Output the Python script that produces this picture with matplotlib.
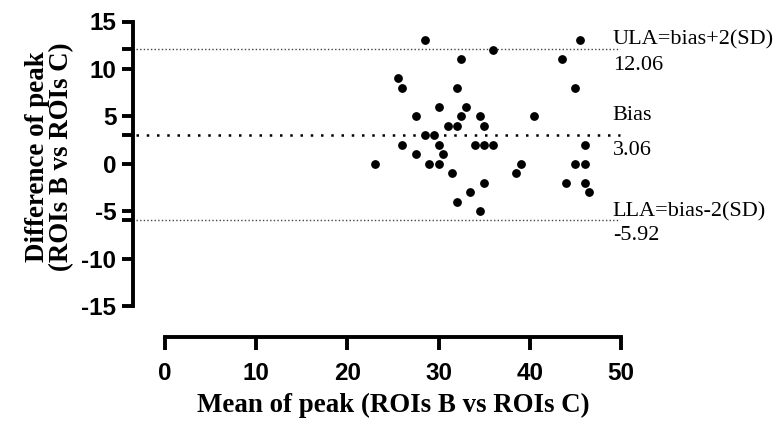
import matplotlib

matplotlib.use("Agg")
import matplotlib.pyplot as plt

# Bland-Altman data
mean_peak = [28.5, 36.0, 32.5, 25.5, 26.0, 32.0, 30.0, 33.0, 27.5, 32.5, 34.5,
             31.0, 32.0, 35.0, 28.5, 29.5, 26.0, 30.0, 34.0, 35.0, 36.0, 27.5,
             30.5, 23.0, 29.0, 30.0, 31.5, 35.0, 33.5, 32.0, 34.5,
             45.5, 43.5, 45.0, 40.5, 46.0, 39.0, 45.0, 46.0, 38.5, 44.0, 46.0, 46.5]
diff_peak = [13, 12, 11, 9, 8, 8, 6, 6, 5, 5, 5,
             4, 4, 4, 3, 3, 2, 2, 2, 2, 2, 1,
             1, 0, 0, 0, -1, -2, -3, -4, -5,
             13, 11, 8, 5, 2, 0, 0, 0, -1, -2, -2, -3]
bias = 3.06
ula = 12.06
lla = -5.92
x_ticks = [0, 10, 20, 30, 40, 50]
y_ticks = [-15, -10, -5, 0, 5, 10, 15]

plt.rcParams["axes.unicode_minus"] = False

fig = plt.figure(figsize=(7.77, 4.24), dpi=100)
ax = fig.add_axes([133 / 777, 118 / 424, 488 / 777, 284.5 / 424])

serif = ["Liberation Serif", "DejaVu Serif"]
sans = ["Liberation Sans", "DejaVu Sans"]

ax.scatter(mean_peak, diff_peak, s=28, color="black", zorder=3, clip_on=False)

x0, x1 = -3.2, 49.9
ax.plot([x0, x1], [ula, ula], color="#444444", linewidth=1.0, dashes=(1, 1.6))
ax.plot([x0, x1], [lla, lla], color="#444444", linewidth=1.0, dashes=(1, 1.6))
ax.plot([x0, x1], [bias, bias], color="black", linewidth=1.8, dashes=(1, 3.1))

tx = 49.1
labels = [("ULA=bias+2(SD)", ula, 3.5), ("Bias", bias, 10.5), ("LLA=bias-2(SD)", lla, 2.5)]
for name, val, up in labels:
    ax.annotate(name, xy=(tx, val), xytext=(0, up), textcoords="offset points",
                va="baseline", ha="left", fontsize=16, family=serif, annotation_clip=False)
    ax.annotate(f"{val:.2f}", xy=(tx, val), xytext=(0, -14.5), textcoords="offset points",
                va="baseline", ha="left", fontsize=16, family=serif, annotation_clip=False)

ax.set_xlim(-3.5, 50)
ax.set_ylim(-15, 15)

for side in ("top", "right"):
    ax.spines[side].set_visible(False)
ax.spines["left"].set_linewidth(2.8)
ax.spines["bottom"].set_linewidth(2.8)
ax.spines["bottom"].set_position(("outward", 22))
ax.spines["bottom"].set_bounds(0, 50)
ax.spines["left"].set_bounds(-15, 15)

ax.set_xticks(x_ticks)
ax.set_yticks(y_ticks)
ax.set_yticks([ula, bias, lla], minor=True)
ax.tick_params(axis="both", which="both", width=2.8, length=8)
ax.tick_params(axis="x", length=9, pad=9)
ax.tick_params(axis="y", which="both", pad=4)
ax.tick_params(axis="y", which="minor", labelleft=False)
for lab in ax.get_xticklabels() + ax.get_yticklabels():
    lab.set_fontfamily(sans)
    lab.set_fontweight("bold")
    lab.set_fontsize(17.5)

ax.set_xlabel("Mean of peak (ROIs B vs ROIs C)", fontsize=19.4, fontweight="bold",
              family=serif)
ax.xaxis.set_label_coords(0.533, -0.305)
ax.set_ylabel("Difference of peak\n(ROIs B vs ROIs C)", fontsize=19.4, fontweight="bold",
              family=serif, linespacing=0.95)
ax.yaxis.set_label_coords(-0.12, 0.525)

fig.savefig("out.png", dpi=100)
plt.close(fig)
